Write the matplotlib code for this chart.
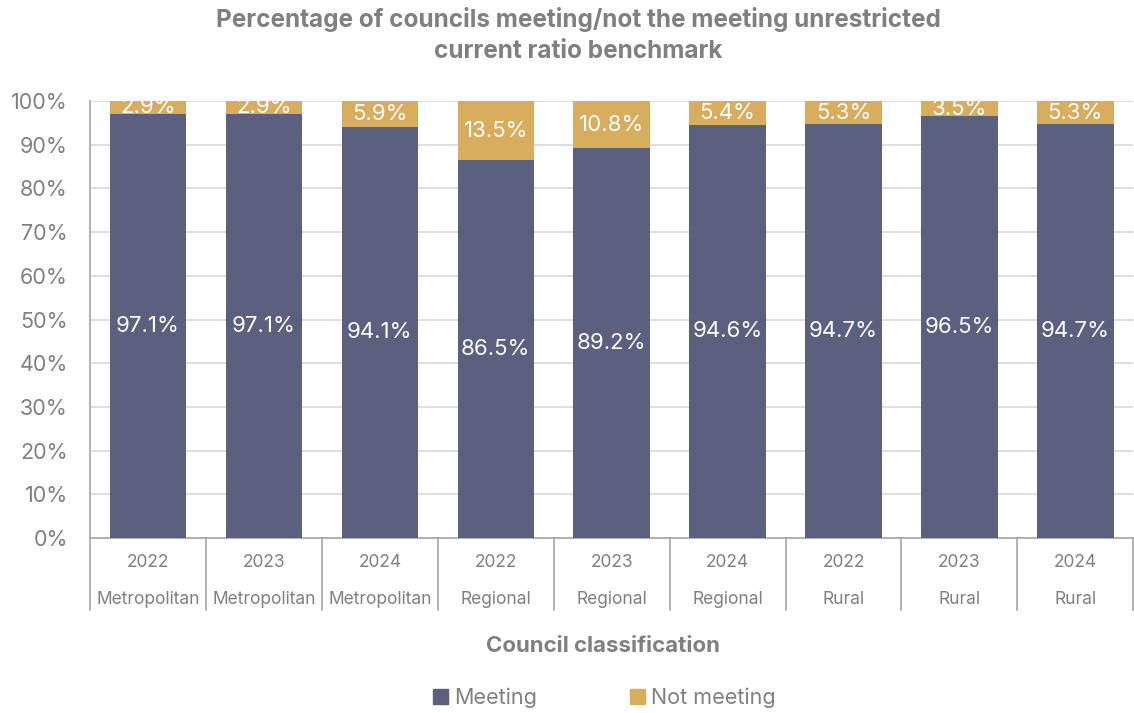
import matplotlib.pyplot as plt
from matplotlib.patches import Patch

plt.rcParams['font.family'] = ['Inter', 'DejaVu Sans']

years = ["2022", "2023", "2024", "2022", "2023", "2024", "2022", "2023", "2024"]
groups = ["Metropolitan", "Metropolitan", "Metropolitan", "Regional", "Regional",
          "Regional", "Rural", "Rural", "Rural"]
meeting = [97.1, 97.1, 94.1, 86.5, 89.2, 94.6, 94.7, 96.5, 94.7]
not_meeting = [2.9, 2.9, 5.9, 13.5, 10.8, 5.4, 5.3, 3.5, 5.3]

c_meet = "#5A607D"
c_not = "#D8AD5E"
gray = "#808080"

fig = plt.figure(figsize=(11.34, 7.13), dpi=100)
ax = fig.add_axes([0.0794, 0.2454, 0.92, 0.6129])

x = list(range(len(meeting)))
ax.bar(x, meeting, width=0.66, color=c_meet, zorder=3)
ax.bar(x, not_meeting, width=0.66, bottom=meeting, color=c_not, zorder=3)

for i in x:
    ax.text(i, meeting[i] / 2, f"{meeting[i]:.1f}%", ha="center", va="center",
            color="white", fontsize=16, zorder=4)
    ax.text(i, meeting[i] + not_meeting[i] / 2, f"{not_meeting[i]:.1f}%",
            ha="center", va="center", color="white", fontsize=16, zorder=4)

ax.set_xlim(-0.5, len(meeting) - 0.5)
ax.set_ylim(0, 100)
ax.set_yticks(range(0, 101, 10))
ax.set_yticklabels([f"{v}%" for v in range(0, 101, 10)], fontsize=15.5, color=gray)
ax.yaxis.grid(True, color="#D9D9D9", linewidth=1.2, zorder=0)
ax.set_axisbelow(True)
ax.tick_params(axis="y", length=0, pad=16)
ax.set_xticks([])
for s in ["top", "right"]:
    ax.spines[s].set_visible(False)
ax.spines["left"].set_color("#A6A6A6")
ax.spines["bottom"].set_color("#A6A6A6")
ax.spines["left"].set_linewidth(1.2)
ax.spines["bottom"].set_linewidth(1.2)

# two-level category axis
trans = ax.get_xaxis_transform()
for b in range(len(meeting) + 1):
    ax.plot([b - 0.5, b - 0.5], [0, -0.165], transform=trans, color="#A6A6A6",
            linewidth=1.2, clip_on=False)
for i in x:
    ax.text(i, -0.055, years[i], transform=trans, ha="center", va="center",
            fontsize=12.5, color=gray)
    ax.text(i, -0.14, groups[i], transform=trans, ha="center", va="center",
            fontsize=12.5, color=gray)

fig.text(0.51, 0.951, "Percentage of councils meeting/not the meeting unrestricted\ncurrent ratio benchmark",
         ha="center", va="center", fontsize=17.5, fontweight="bold", color=gray, linespacing=1.45)
fig.text(0.532, 0.094, "Council classification", ha="center", va="center",
         fontsize=16, fontweight="bold", color=gray)

handles = [Patch(color=c_meet, label="Meeting"), Patch(color=c_not, label="Not meeting")]
fig.legend(handles=handles, loc="center", bbox_to_anchor=(0.533, 0.021), ncol=2,
           frameon=False, fontsize=15.5, labelcolor=gray, handlelength=0.7,
           handleheight=0.7, handletextpad=0.3, columnspacing=4.3)

fig.savefig("out.png", dpi=100)
